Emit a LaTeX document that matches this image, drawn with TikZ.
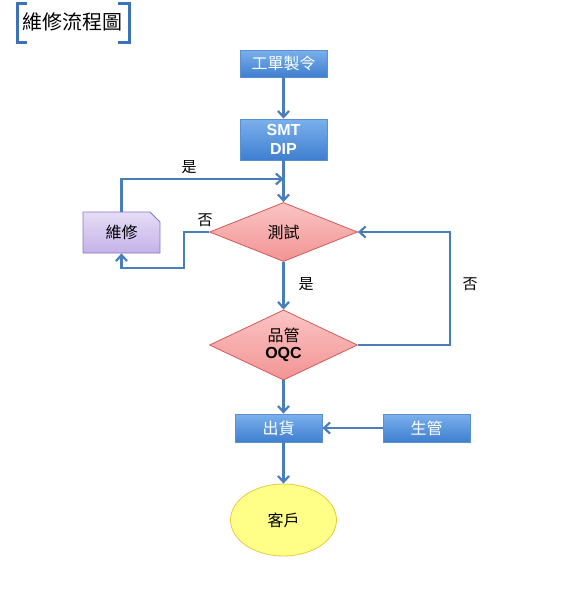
\documentclass[tikz,border=0pt]{standalone}
\usepackage{fontspec}
\setmainfont{Noto Sans CJK TC}
\newfontfamily\latinb{Liberation Sans}
\usetikzlibrary{arrows.meta,shapes.geometric,shapes.misc}
\definecolor{arrowblue}{HTML}{4A7EBB}
\definecolor{boxtop}{HTML}{7AB0EC}
\definecolor{boxbot}{HTML}{3F7FD0}
\definecolor{boxedge}{HTML}{5B8FD0}
\definecolor{dtop}{HTML}{FBC4C4}
\definecolor{dbot}{HTML}{F29494}
\definecolor{dedge}{HTML}{D25A5A}
\definecolor{ptop}{HTML}{E6DDF6}
\definecolor{pbot}{HTML}{C4B2E8}
\definecolor{pedge}{HTML}{8C74C4}
\definecolor{yfill}{HTML}{FFFF88}
\definecolor{yedge}{HTML}{E6CC44}
\definecolor{brk}{HTML}{3D72B8}
\begin{document}
\begin{tikzpicture}[x=1pt,y=-1pt,
  bluebox/.style={rectangle, draw=boxedge, line width=0.8pt, top color=boxtop, bottom color=boxbot,
    minimum width=87pt, inner sep=0pt, text=white, font=\fontsize{16}{19}\selectfont, align=center},
  decision/.style={diamond, draw=dedge, line width=0.8pt, top color=dtop, bottom color=dbot,
    minimum width=148pt, inner sep=0pt, font=\fontsize{16}{19}\selectfont, align=center},
  arr/.style={draw=arrowblue, line width=2.6pt, -{Straight Barb[length=6pt,width=11pt,line width=2.2pt]}},
  lbl/.style={font=\fontsize{15}{17}\selectfont, inner sep=0pt}]
\useasboundingbox (0,0) rectangle (560,613);
% title
\draw[brk, line width=3pt] (27,3) -- (17,3) -- (17,42) -- (27,42);
\draw[brk, line width=3pt] (118,3) -- (129,3) -- (129,42) -- (118,42);
\node[font=\fontsize{20}{22}\selectfont, inner sep=0pt] (title) at (73,22) {維修流程圖};
% nodes
\node[bluebox, minimum height=27pt] (wo) at (283.5,63.5) {工單製令};
\node[bluebox, minimum height=41pt, font=\latinb\bfseries\fontsize{16}{19}\selectfont] (smt) at (283.5,139.5) {SMT\\DIP};
\node[decision, minimum height=59pt] (test) at (283.5,232) {測試};
\node[decision, minimum height=70pt] (oqc) at (283.5,345) {品管\\[-2pt]{\latinb\bfseries OQC}};
\node[chamfered rectangle, chamfered rectangle corners=north east, chamfered rectangle xsep=5pt, chamfered rectangle ysep=5pt,
  draw=pedge, line width=0.8pt, top color=ptop, bottom color=pbot, minimum width=77pt, minimum height=41pt,
  inner sep=0pt, font=\fontsize{16}{19}\selectfont] (repair) at (121.5,232.5) {維修};
\node[bluebox, minimum height=28pt] (ship) at (278.5,428) {出貨};
\node[bluebox, minimum height=28pt] (prod) at (426.5,428) {生管};
\node[ellipse, draw=yedge, line width=0.8pt, fill=yfill, minimum width=106pt, minimum height=72pt,
  inner sep=0pt, font=\fontsize{16}{19}\selectfont] (cust) at (283.5,520) {客戶};
% connectors
\coordinate (join) at (283.5,179);
\draw[arr] (wo.south -| join) -- (smt.north -| join);
\draw[arr] (smt.south -| join) -- (test.north);
\draw[arr] (repair.north) |- (join);
\draw[arr] (test.west) -- ++(-25,0) -- ++(0,36) -| (repair.south);
\draw[arr] (test.south) -- (oqc.north);
\draw[arr] (oqc.east) -- ++(92,0) |- (test.east);
\draw[arr] (oqc.south) -- (ship.north -| join);
\draw[arr] (prod.west) -- (ship.east);
\draw[arr] (ship.south -| join) -- (cust.north);
% labels
\node[lbl] (l1) at (189,167) {是};
\node[lbl] (l2) at (205,220) {否};
\node[lbl] (l3) at (306,284) {是};
\node[lbl] (l4) at (470,284) {否};
\end{tikzpicture}
\end{document}
